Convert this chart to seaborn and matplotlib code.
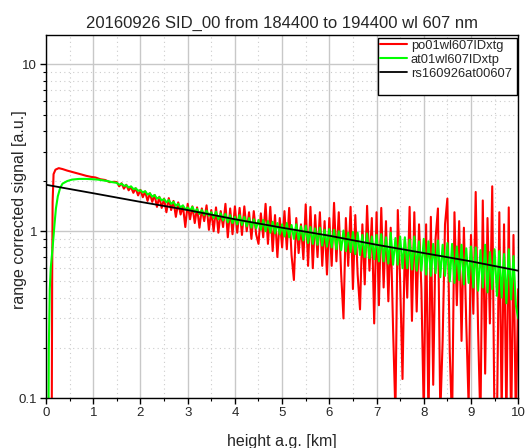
import numpy as np
import pandas as pd
import matplotlib
matplotlib.use('Agg')
import matplotlib.pyplot as plt
import matplotlib.ticker as mticker
from matplotlib.patches import Rectangle
import seaborn as sns

# near range (km, signal)
red_near_h = [0.12, 0.13, 0.14, 0.16, 0.20, 0.27, 0.35, 0.45, 0.55, 0.65, 0.75, 0.85, 0.95,
              1.05, 1.15, 1.25, 1.35, 1.45]
red_near_v = [0.05, 0.5, 1.5, 2.2, 2.34, 2.39, 2.36, 2.31, 2.27, 2.23, 2.19, 2.15, 2.12,
              2.10, 2.05, 2.03, 1.97, 1.98]
green_near_h = [0.05, 0.06, 0.08, 0.10, 0.14, 0.18, 0.21, 0.25, 0.30, 0.35, 0.45, 0.55, 0.70,
                0.85, 1.00, 1.10, 1.20, 1.30, 1.40, 1.45]
green_near_v = [0.05, 0.2, 0.45, 0.6, 0.8, 1.1, 1.37, 1.62, 1.82, 1.93, 2.0, 2.04, 2.06,
                2.06, 2.05, 2.04, 2.02, 2.0, 1.97, 1.96]

# far range, every 50 m from 1.5 to 10 km
far_h = np.round(np.arange(1.5, 10.001, 0.05), 2)
red_far = [
    1.97, 1.86, 1.94, 1.80, 1.90, 1.76, 1.84, 1.70, 1.81, 1.64, 1.77,
    1.60, 1.73, 1.52, 1.69, 1.50, 1.65, 1.40, 1.61, 1.38, 1.57,
    1.30, 1.58, 1.34, 1.52, 1.22, 1.49, 1.26, 1.42, 1.06, 1.46,
    1.18, 1.41, 1.12, 1.39, 1.05, 1.37, 1.15, 1.43, 1.02, 1.34,
    1.00, 1.39, 0.98, 1.32, 1.06, 1.46, 0.92, 1.37, 0.96, 1.41,
    0.98, 1.38, 0.95, 1.41, 1.00, 1.30, 0.90, 1.32, 0.96, 0.84,
    1.28, 0.92, 1.46, 0.84, 1.40, 0.76, 1.25, 0.70, 1.20, 0.80,
    1.32, 0.78, 1.38, 0.72, 0.51, 1.20, 0.74, 1.10, 0.68, 1.45,
    0.62, 1.40, 0.60, 1.25, 0.70, 1.30, 0.62, 1.15, 0.55, 1.20,
    0.62, 1.48, 0.66, 1.30, 0.56, 0.30, 1.20, 0.62, 1.40, 0.45,
    1.25, 0.55, 0.34, 1.10, 0.48, 1.42, 0.58, 1.20, 0.28, 1.30,
    0.36, 1.38, 0.46, 1.15, 0.38, 1.05, 0.26, 0.08, 1.34, 0.50,
    0.13, 0.90, 0.40, 1.40, 0.29, 1.30, 0.33, 1.10, 0.45, 0.08,
    1.10, 0.07, 1.22, 0.12, 0.90, 1.37, 0.08, 0.22, 1.10, 1.57,
    0.19, 0.07, 1.30, 0.36, 1.15, 0.22, 1.05, 0.28, 0.09, 0.95,
    0.32, 1.72, 0.26, 0.07, 1.53, 0.14, 1.20, 0.28, 1.86, 0.06,
    0.07, 1.30, 0.08, 1.10, 0.07, 1.39, 0.06, 0.95, 0.07, 0.45,
]
green_far = [
    1.95, 1.90, 1.93, 1.87, 1.89, 1.83, 1.86, 1.79, 1.81, 1.75, 1.76,
    1.71, 1.74, 1.66, 1.69, 1.61, 1.65, 1.57, 1.60, 1.53, 1.56,
    1.49, 1.54, 1.46, 1.50, 1.42, 1.46, 1.39, 1.43, 1.35, 1.39,
    1.33, 1.40, 1.30, 1.36, 1.27, 1.34, 1.25, 1.33, 1.24, 1.30,
    1.20, 1.31, 1.18, 1.28, 1.16, 1.27, 1.13, 1.25, 1.12, 1.22,
    1.10, 1.25, 1.09, 1.22, 1.07, 1.20, 1.05, 1.18, 1.04, 1.17,
    1.02, 1.17, 1.00, 1.15, 0.98, 1.14, 0.97, 1.12, 0.96, 1.10,
    0.93, 1.12, 0.92, 1.09, 0.90, 1.10, 0.89, 1.07, 0.88, 1.08,
    0.85, 1.06, 0.84, 1.04, 0.83, 1.05, 0.82, 1.02, 0.81, 1.03,
    0.80, 1.02, 0.78, 1.00, 0.77, 1.01, 0.76, 0.98, 0.75, 0.99,
    0.73, 0.98, 0.72, 0.95, 0.70, 0.97, 0.69, 0.93, 0.68, 0.95,
    0.66, 0.96, 0.66, 0.92, 0.64, 0.98, 0.63, 0.91, 0.63, 0.93,
    0.60, 0.92, 0.60, 0.89, 0.59, 0.93, 0.58, 0.87, 0.58, 0.90,
    0.55, 0.87, 0.54, 0.84, 0.56, 0.88, 0.53, 0.83, 0.54, 0.85,
    0.50, 0.84, 0.49, 0.81, 0.51, 0.83, 0.48, 0.79, 0.49, 0.81,
    0.46, 0.80, 0.44, 0.77, 0.46, 0.83, 0.43, 0.75, 0.45, 0.78,
    0.41, 0.76, 0.40, 0.73, 0.37, 0.78, 0.39, 0.71, 0.36, 0.30,
]

# molecular reference
ray_h = [0, 1, 2, 3, 4, 5, 6, 7, 8, 9, 10]
ray_v = [1.90, 1.69, 1.50, 1.34, 1.18, 1.05, 0.94, 0.83, 0.74, 0.66, 0.58]

red = pd.DataFrame({'h': list(red_near_h) + list(far_h), 'sig': red_near_v + red_far})
green = pd.DataFrame({'h': list(green_near_h) + list(far_h), 'sig': green_near_v + green_far})
ray = pd.DataFrame({'h': ray_h, 'sig': ray_v})

sns.set_theme(style='ticks')
plt.rcParams['font.family'] = ['Liberation Sans', 'DejaVu Sans']

fig = plt.figure(figsize=(5.27, 4.48), dpi=100)
ax = fig.add_axes([0.0873, 0.1116, 0.896, 0.81])

sns.lineplot(data=red, x='h', y='sig', color='#ff0000', lw=1.5, sort=False,
             estimator=None, label='po01wl607IDxtg', ax=ax)
sns.lineplot(data=green, x='h', y='sig', color='#00ff00', lw=1.5, sort=False,
             estimator=None, label='at01wl607IDxtp', ax=ax)
sns.lineplot(data=ray, x='h', y='sig', color='black', lw=1.3, sort=False,
             estimator=None, label='rs160926at00607', ax=ax)

ax.set_yscale('log')
ax.set_xlim(0, 10)
ax.set_ylim(0.1, 15)
ax.xaxis.set_major_locator(mticker.MultipleLocator(1))
ax.xaxis.set_minor_locator(mticker.MultipleLocator(0.5))
ax.yaxis.set_major_locator(mticker.FixedLocator([0.1, 1, 10]))
ax.yaxis.set_major_formatter(mticker.FixedFormatter(['0.1', '1', '10']))
ax.yaxis.set_minor_locator(mticker.LogLocator(base=10, subs=np.arange(2, 10)))
ax.yaxis.set_minor_formatter(mticker.NullFormatter())

ax.grid(which='major', color='#c8c8c8', lw=1.0, ls='-')
ax.grid(which='minor', color='#cccccc', lw=0.8, ls=(0, (1, 3)))
ax.set_axisbelow(True)

ax.tick_params(which='major', direction='out', length=4, width=1, labelsize=9.5,
               color='black', pad=2.5)
ax.tick_params(which='minor', direction='out', length=2.5, width=0.8, color='black')
for s in ax.spines.values():
    s.set_color('black')
    s.set_linewidth(1.0)

ax.set_title('20160926 SID_00 from 184400 to 194400 wl 607 nm', fontsize=12, pad=5)
ax.set_xlabel('height a.g. [km]', fontsize=11.5)
ax.set_ylabel('range corrected signal [a.u.]', fontsize=11.5)
ax.xaxis.set_label_coords(0.5, -0.1)
ax.yaxis.set_label_coords(-0.04, 0.52)

# legend box taller than its entries, as in the original
ax.add_patch(Rectangle((0.703, 0.835), 0.295, 0.158, transform=ax.transAxes,
                       facecolor='white', edgecolor='black', lw=1.0, zorder=4))
leg = ax.legend(loc='upper left', bbox_to_anchor=(0.703, 0.993), fontsize=9.3,
                frameon=False, borderaxespad=0, handlelength=2.1, labelspacing=0.15,
                borderpad=0.15, handletextpad=0.3)
leg.set_zorder(5)

fig.savefig('out.png', dpi=100)
